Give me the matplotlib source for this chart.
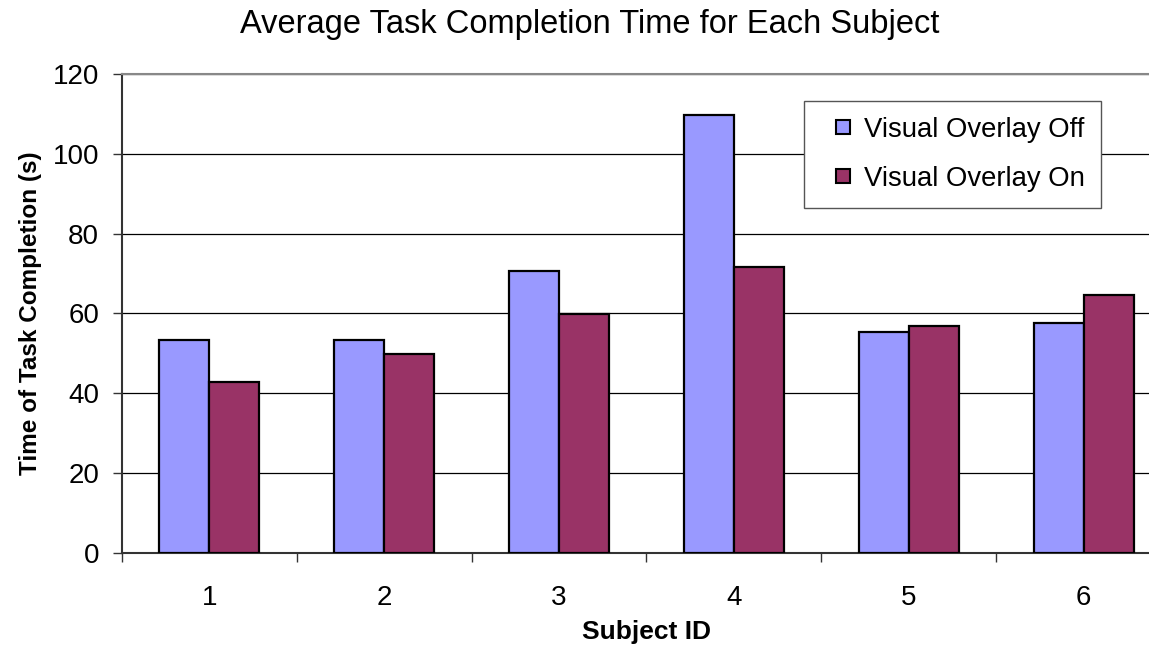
import matplotlib

matplotlib.use("Agg")
import matplotlib.pyplot as plt
from matplotlib.lines import Line2D
import numpy as np

plt.rcParams["font.family"] = ["Liberation Sans", "DejaVu Sans"]

subjects = ["1", "2", "3", "4", "5", "6"]
overlay_off = [53.2, 53.2, 70.6, 109.6, 55.3, 57.5]
overlay_on = [42.8, 49.9, 59.8, 71.6, 56.9, 64.5]
series_names = ["Visual Overlay Off", "Visual Overlay On"]
yticks = [0, 20, 40, 60, 80, 100, 120]

C_OFF, C_ON = "#9999FF", "#993366"
W, H = 1149, 649

fig = plt.figure(figsize=(W / 100, H / 100), dpi=100)
# plot area runs past the right edge of the picture, as in the original crop
ax = fig.add_axes([122 / W, (H - 552.7) / H, (1171 - 122) / W, (552.7 - 74) / H])

x = np.arange(len(subjects))
bw = 0.2857
ax.bar(x - bw / 2, overlay_off, bw, color=C_OFF, edgecolor="black", lw=1.6, zorder=3)
ax.bar(x + bw / 2, overlay_on, bw, color=C_ON, edgecolor="black", lw=1.6, zorder=3)

ax.set_xlim(-0.5, len(subjects) - 0.5)
ax.set_ylim(0, 120)
ax.set_yticks(yticks)
ax.yaxis.grid(True, color="black", lw=0.9)
ax.set_axisbelow(True)

# category boundaries get the tick marks, labels sit at the centres
ax.set_xticks(np.arange(-0.5, len(subjects)), [""] * (len(subjects) + 1))
ax.set_xticks(x, subjects, minor=True)
ax.tick_params(axis="x", which="major", direction="out", length=6.5, width=1.0, color="#333333")
ax.tick_params(axis="x", which="minor", length=0, pad=23, labelsize=20)
ax.tick_params(axis="y", direction="out", length=6.5, width=1.0, color="#333333",
               pad=10, labelsize=20)

for s in ["left", "bottom"]:
    ax.spines[s].set_color("#333333")
    ax.spines[s].set_linewidth(1.5)
ax.spines["top"].set_color("#888888")
ax.spines["top"].set_linewidth(1.5)
ax.spines["right"].set_visible(False)

fig.text(589.5 / W, 1 - 33 / H, "Average Task Completion Time for Each Subject",
         ha="center", va="baseline", fontsize=23.5)
fig.text(31 / W, 1 - 313 / H, "Time of Task Completion (s)", rotation=90,
         ha="center", va="center", fontsize=17.5, fontweight="bold")
fig.text(646 / W, 1 - 632 / H, "Subject ID", ha="center", va="center",
         fontsize=19, fontweight="bold")

handles = [Line2D([], [], ls="none", marker="s", ms=10.5, mfc=c, mec="black", mew=1.5)
           for c in (C_OFF, C_ON)]
leg = ax.legend(handles, series_names, loc="upper left",
                bbox_to_anchor=(804 / W, 1 - 100.7 / H), bbox_transform=fig.transFigure,
                borderaxespad=0, fontsize=19.8, frameon=True, fancybox=False,
                borderpad=0.58, handlelength=1.7, handletextpad=-0.1, labelspacing=0.85)
leg.get_frame().set_edgecolor("#555555")
leg.get_frame().set_linewidth(1.0)
leg.get_frame().set_alpha(1)

fig.savefig("out.png", dpi=100)
